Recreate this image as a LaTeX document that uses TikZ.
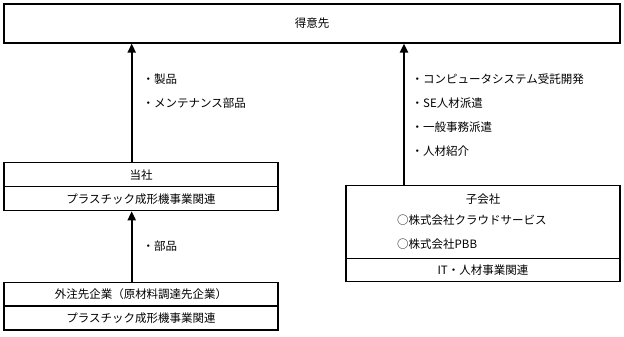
\documentclass[tikz,border=0pt]{standalone}
\usepackage{fontspec}
\setmainfont{Noto Sans CJK JP}
\usetikzlibrary{arrows.meta}
\begin{document}
\begin{tikzpicture}[x=1pt,y=-1pt,
  box/.style={draw=black,line width=1.2pt,inner sep=0pt,minimum width=274pt},
  txt/.style={inner sep=0pt,font=\fontsize{11.5}{13}\selectfont},
  lbl/.style={inner sep=0pt,anchor=west,font=\fontsize{11.5}{13}\selectfont},
  arr/.style={line width=2pt,-{Triangle[width=8pt,length=9pt]}}]
\useasboundingbox (0,0) rectangle (624,337);
% top
\node[box,minimum width=616pt,minimum height=39pt] (cust) at (312,23.5) {};
\node[txt] (custT) at (312,23.5) {得意先};
% tosha
\node[box,minimum height=24pt] (tosha) at (141,174.7) {};
\node[txt] (toshaT) at (141,174.7) {当社};
\node[box,minimum height=24pt] (toshaB) at (141,198.7) {};
\node[txt] (toshaBT) at (141,198.7) {プラスチック成形機事業関連};
% gaichu
\node[box,minimum height=23pt] (gai) at (141,294.2) {};
\node[txt] (gaiT) at (141,294.2) {外注先企業（原材料調達先企業）};
\node[box,minimum height=24pt] (gaiB) at (141,318) {};
\node[txt] (gaiBT) at (141,318) {プラスチック成形機事業関連};
% kogaisha
\node[box,minimum height=72.6pt] (ko) at (483,222) {};
\node[txt] (koT) at (483,199) {子会社};
\node[lbl] (ko1) at (397,220) {○株式会社クラウドサービス};
\node[lbl] (ko2) at (397,244) {○株式会社PBB};
\node[box,minimum height=23.4pt] (koB) at (483,270) {};
\node[txt] (koBT) at (483,270) {IT・人材事業関連};
% arrows
\draw[arr] ([xshift=-9.3pt]tosha.north) -- ([xshift=-9.3pt]tosha.north |- cust.south);
\draw[arr] ([xshift=-9.3pt]gai.north) -- ([xshift=-9.3pt]toshaB.south);
\draw[arr] ([xshift=-79pt]ko.north) -- ([xshift=-79pt]ko.north |- cust.south);
% labels
\node[lbl] (l1) at (142.5,79) {・製品};
\node[lbl] (l2) at (142.5,103) {・メンテナンス部品};
\node[lbl] (l3) at (411.5,79) {・コンピュータシステム受託開発};
\node[lbl] (l4) at (411.5,103) {・SE人材派遣};
\node[lbl] (l5) at (411.5,127) {・一般事務派遣};
\node[lbl] (l6) at (411.5,151) {・人材紹介};
\node[lbl] (l7) at (142.5,246) {・部品};
\end{tikzpicture}
\end{document}
